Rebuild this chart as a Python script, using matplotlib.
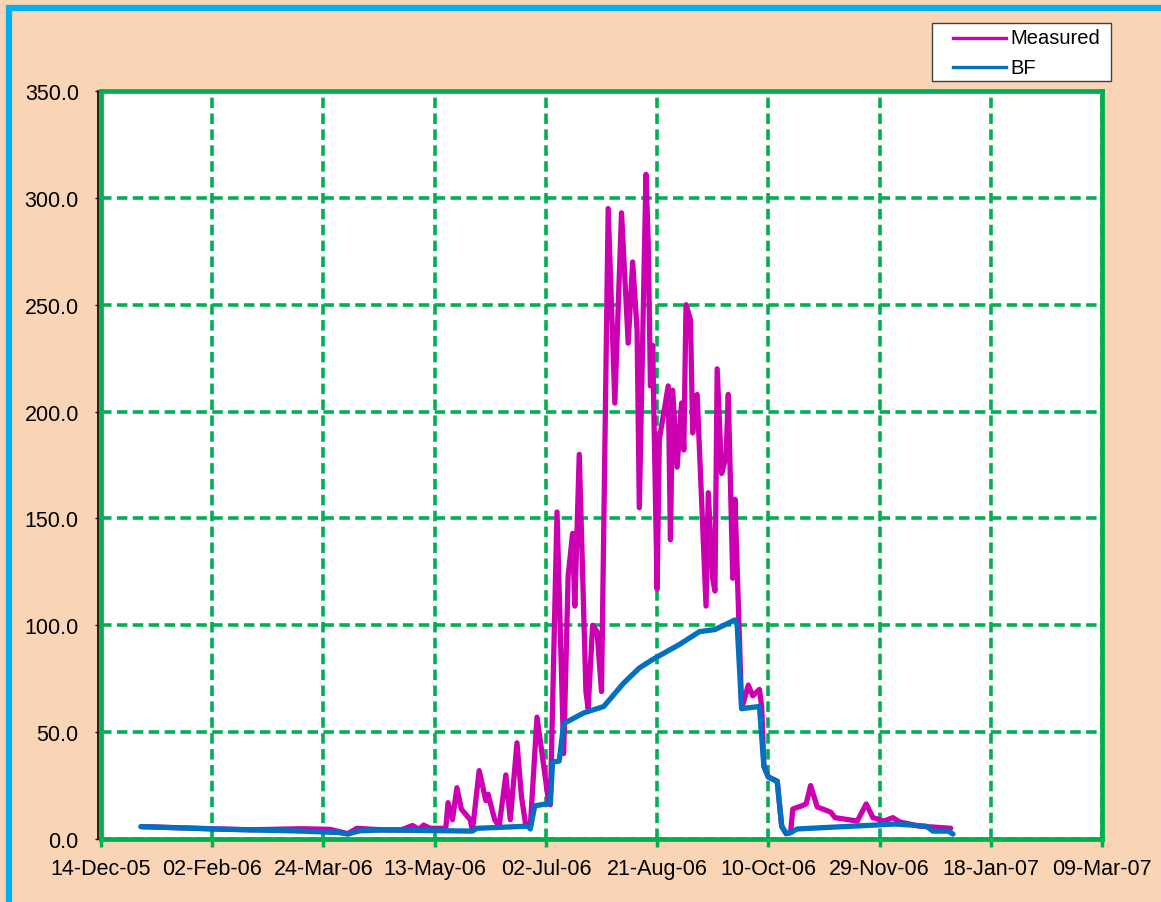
import numpy as np, pandas as pd
import matplotlib
matplotlib.use("Agg")
import matplotlib.pyplot as plt
import matplotlib.dates as mdates
from matplotlib.patches import Rectangle
from matplotlib.lines import Line2D

plt.rcParams['font.family'] = ['Liberation Sans', 'DejaVu Sans']

# ---- data ----
meas_dates = ["2006-01-01","2006-02-02","2006-02-19","2006-03-14","2006-03-27","2006-04-04","2006-04-08",
    "2006-04-19","2006-04-28","2006-05-03","2006-05-06","2006-05-08","2006-05-11","2006-05-18","2006-05-19",
    "2006-05-21","2006-05-23","2006-05-25","2006-05-29","2006-05-30","2006-06-02","2006-06-05","2006-06-06",
    "2006-06-09","2006-06-11","2006-06-14","2006-06-16","2006-06-19","2006-06-21","2006-06-23","2006-06-25",
    "2006-06-28","2006-06-30","2006-07-03","2006-07-04","2006-07-07","2006-07-10","2006-07-12","2006-07-14",
    "2006-07-15","2006-07-17","2006-07-20","2006-07-21","2006-07-23","2006-07-25","2006-07-27","2006-07-30",
    "2006-08-02","2006-08-05","2006-08-08","2006-08-10","2006-08-12","2006-08-13","2006-08-16","2006-08-17",
    "2006-08-18","2006-08-19","2006-08-21","2006-08-22","2006-08-26","2006-08-27","2006-08-28","2006-08-30",
    "2006-09-01","2006-09-02","2006-09-03","2006-09-05","2006-09-06","2006-09-07","2006-09-08","2006-09-12",
    "2006-09-13","2006-09-15","2006-09-16","2006-09-17","2006-09-19","2006-09-21","2006-09-22","2006-09-24",
    "2006-09-25","2006-09-28","2006-10-01","2006-10-03","2006-10-06","2006-10-07","2006-10-08","2006-10-10",
    "2006-10-14","2006-10-16","2006-10-18","2006-10-20","2006-10-21","2006-10-25","2006-10-27","2006-10-29",
    "2006-11-01","2006-11-07","2006-11-09","2006-11-19","2006-11-23","2006-11-26","2006-12-01","2006-12-05",
    "2006-12-08","2006-12-17","2006-12-23","2006-12-31"]
meas_vals = [5.8,4.8,4.3,4.8,4.5,2.5,5.0,
    4.3,4.3,6.3,4.5,6.5,5.0,5.0,17,
    9,24,14,9,4,32,18,21,
    9,6,30,9,45,20,6,6,
    57,42,19,16,153,40,123,143,
    109,180,69,61,100,97,69,295,
    204,293,232,270,238,155,311,279,
    212,231,117,187,212,140,210,174,
    204,182,250,243,190,207,208,109,
    162,122,116,220,171,179,208,122,
    159,61,72,67,70,62,34,29,
    27,6,2.5,3,14,15.5,16.4,25,
    15,12.6,10,8.4,16.4,10,8.4,10,
    8,6,5.6,5.0]

bf_dates = ["2006-01-01","2006-02-02","2006-03-14","2006-03-31","2006-04-04","2006-04-09","2006-04-19",
    "2006-05-30","2006-06-01","2006-06-24","2006-06-25","2006-06-27","2006-07-04","2006-07-05","2006-07-08",
    "2006-07-10","2006-07-19","2006-07-28","2006-08-06","2006-08-13","2006-08-19","2006-08-31","2006-09-09",
    "2006-09-16","2006-09-25","2006-09-26","2006-09-28","2006-10-06","2006-10-08","2006-10-10","2006-10-14",
    "2006-10-16","2006-10-18","2006-10-20","2006-10-23","2006-12-06","2006-12-20","2006-12-23","2006-12-30",
    "2007-01-01"]
bf_vals = [5.8,4.7,3.7,3.0,2.3,3.8,4.2,
    3.7,5.0,6.0,4.7,15.5,16.8,36,36.5,
    54,59,62,73,80,84,91,97,
    98,102.5,100,61,62,34,29,27,
    6,2.5,3,4.7,7,6,3.7,3.7,
    2.3]

x_start, x_end, x_step = "2005-12-14", "2007-03-09", 50
y_ticks = [0, 50, 100, 150, 200, 250, 300, 350]

PEACH = "#FAD5B5"
GREEN = "#00B050"
MAGENTA = "#CC00B0"
BLUE = "#0070C0"
W, H = 1161, 903

fig = plt.figure(figsize=(W/100, H/100), dpi=100, facecolor=PEACH)
fig.patches.append(Rectangle((9/W, -0.05), 1.2, 1 - 9/H + 0.05, transform=fig.transFigure,
                             fill=False, edgecolor="#00B0F0", linewidth=4.5))
ax = fig.add_axes([101/W, 1-840/H, 1001/W, 748/H])
ax.set_facecolor("white")

md = pd.to_datetime(meas_dates); bd = pd.to_datetime(bf_dates)
ax.plot(md, meas_vals, color=MAGENTA, lw=3.8, label="Measured", solid_joinstyle="round",
        solid_capstyle="round", zorder=3)
ax.plot(bd, bf_vals, color=BLUE, lw=3.8, label="BF", solid_joinstyle="round",
        solid_capstyle="round", zorder=4)

xt = pd.date_range(x_start, x_end, freq=f"{x_step}D")
ax.set_xlim(pd.Timestamp(x_start), pd.Timestamp(x_end))
ax.set_xticks(xt)
ax.xaxis.set_major_formatter(mdates.DateFormatter("%d-%b-%y"))
ax.set_ylim(0, 350)
ax.set_yticks(y_ticks)
ax.yaxis.set_major_formatter(matplotlib.ticker.FormatStrFormatter("%.1f"))

ax.grid(True, color=GREEN, lw=2.6, linestyle=(0, (2.9, 1.5)), zorder=1)
ax.set_axisbelow(True)
for s in ax.spines.values():
    s.set_color(GREEN); s.set_linewidth(3.4)
# thin black value-axis line just outside the green border
ax.add_line(Line2D([-0.0025, -0.0025], [0, 1], transform=ax.transAxes, color="black", lw=1.2,
                   clip_on=False, zorder=5))
ax.tick_params(axis="x", colors=GREEN, length=6, width=2.5, labelsize=15.5, labelcolor="black", pad=8)
ax.tick_params(axis="y", colors="black", length=4, width=1, labelsize=15.5, pad=12)

# legend box
fig.patches.append(Rectangle((932/W, 1-82/H), 179/W, 58/H, transform=fig.transFigure,
                             facecolor="white", edgecolor="#404040", linewidth=1.0, zorder=5))
for label, col, yc in [("Measured", MAGENTA, 39), ("BF", BLUE, 68)]:
    fig.add_artist(Line2D([953/W, 1006/W], [1-yc/H, 1-yc/H], transform=fig.transFigure,
                          color=col, lw=2.4, zorder=6))
    fig.text(1010/W, 1-yc/H, label, fontsize=14.5, va="center", ha="left", zorder=6)

fig.savefig("out.png", dpi=100, facecolor=PEACH)
